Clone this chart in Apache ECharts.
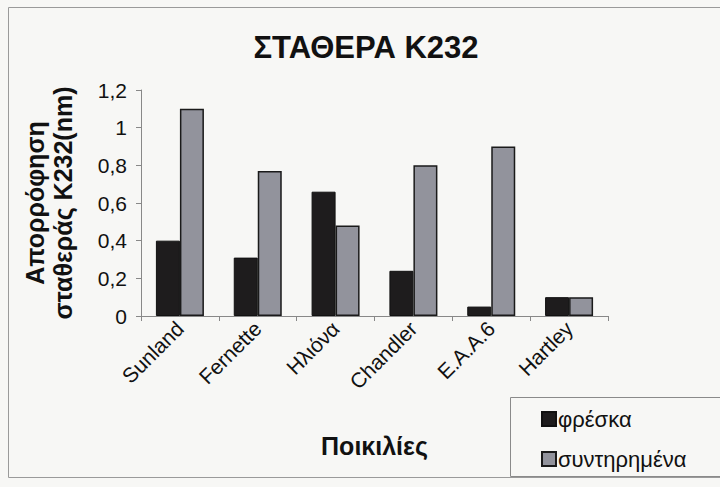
<!DOCTYPE html>
<html>
<head>
<meta charset="utf-8">
<script src="https://cdn.jsdelivr.net/npm/echarts@6/dist/echarts.min.js"></script>
<style>
  html, body { margin: 0; padding: 0; background: #f7f7f5; }
  #chart { width: 720px; height: 487px; }
</style>
</head>
<body>
<div id="chart"></div>
<script>
// Varieties on the x axis
const categories = ['Sunland', 'Fernette', 'Ηλιόνα', 'Chandler', 'E.A.A.6', 'Hartley'];
// K232 absorbance, fresh samples
const freshValues = [0.40, 0.31, 0.66, 0.24, 0.05, 0.10];
// K232 absorbance, stored samples
const storedValues = [1.10, 0.77, 0.48, 0.80, 0.90, 0.10];
const seriesNames = ['φρέσκα', 'συντηρημένα'];
const yTicks = [0, 0.2, 0.4, 0.6, 0.8, 1, 1.2];

const FONT = '"Liberation Sans", Arial, sans-serif';
const chart = echarts.init(document.getElementById('chart'), null, { renderer: 'svg' });

chart.setOption({
  backgroundColor: '#f7f7f5',
  animation: false,
  title: {
    text: 'ΣΤΑΘΕΡΑ Κ232',
    left: 361,
    textAlign: 'center',
    top: 27,
    textStyle: { fontFamily: FONT, fontSize: 31, fontWeight: 'bold', color: '#111' }
  },
  grid: { left: 141, right: 112, top: 90, bottom: 171, containLabel: false },
  legend: {
    orient: 'vertical',
    left: 536,
    top: 403,
    itemWidth: 14,
    itemHeight: 14,
    itemGap: 18,
    icon: 'rect',
    textStyle: { fontFamily: FONT, fontSize: 22, color: '#111', lineHeight: 22, padding: [0, 0, 0, -3] },
    data: seriesNames
  },
  xAxis: {
    type: 'category',
    data: categories,
    name: 'Ποικιλίες',
    nameLocation: 'middle',
    nameGap: 117,
    nameTextStyle: { fontFamily: FONT, fontSize: 25, fontWeight: 'bold', color: '#111' },
    axisLine: { lineStyle: { color: '#888', width: 1 } },
    axisTick: { show: true, length: 5, lineStyle: { color: '#888' } },
    axisLabel: {
      rotate: 45,
      margin: 9,
      fontFamily: FONT,
      fontSize: 21,
      color: '#111'
    }
  },
  yAxis: {
    type: 'value',
    min: 0,
    max: 1.2,
    interval: 0.2,
    name: 'Απορρόφηση\nσταθεράς Κ232(nm)',
    nameLocation: 'middle',
    nameRotate: 90,
    nameGap: 64,
    nameTextStyle: { fontFamily: FONT, fontSize: 25, fontWeight: 'bold', color: '#111', lineHeight: 28 },
    splitLine: { show: false },
    axisLine: { show: true, lineStyle: { color: '#888', width: 1 } },
    axisTick: { show: true, length: 5, lineStyle: { color: '#888' } },
    axisLabel: {
      margin: 14,
      fontFamily: FONT,
      fontSize: 21,
      color: '#111',
      formatter: function (v) {
        const t = yTicks.find(function (y) { return Math.abs(y - v) < 1e-9; });
        return String(t !== undefined ? t : v).replace('.', ',');
      }
    }
  },
  series: [
    {
      name: seriesNames[0],
      type: 'bar',
      data: freshValues,
      barWidth: 24,
      barGap: '0%',
      itemStyle: { color: '#1e1c1d', borderColor: '#111', borderWidth: 1 }
    },
    {
      name: seriesNames[1],
      type: 'bar',
      data: storedValues,
      barWidth: 24,
      itemStyle: { color: '#92939c', borderColor: '#1a1a1a', borderWidth: 1.5 }
    }
  ],
  graphic: [
    {
      type: 'rect',
      z: -1,
      silent: true,
      shape: { x: 8.5, y: 7.5, width: 740, height: 470 },
      style: { fill: 'none', stroke: '#9a9a9a', lineWidth: 1 }
    },
    {
      type: 'rect',
      z: -1,
      silent: true,
      shape: { x: 510.5, y: 397.5, width: 240, height: 79 },
      style: { fill: 'none', stroke: '#8a8a8a', lineWidth: 1 }
    }
  ]
});
</script>
</body>
</html>
